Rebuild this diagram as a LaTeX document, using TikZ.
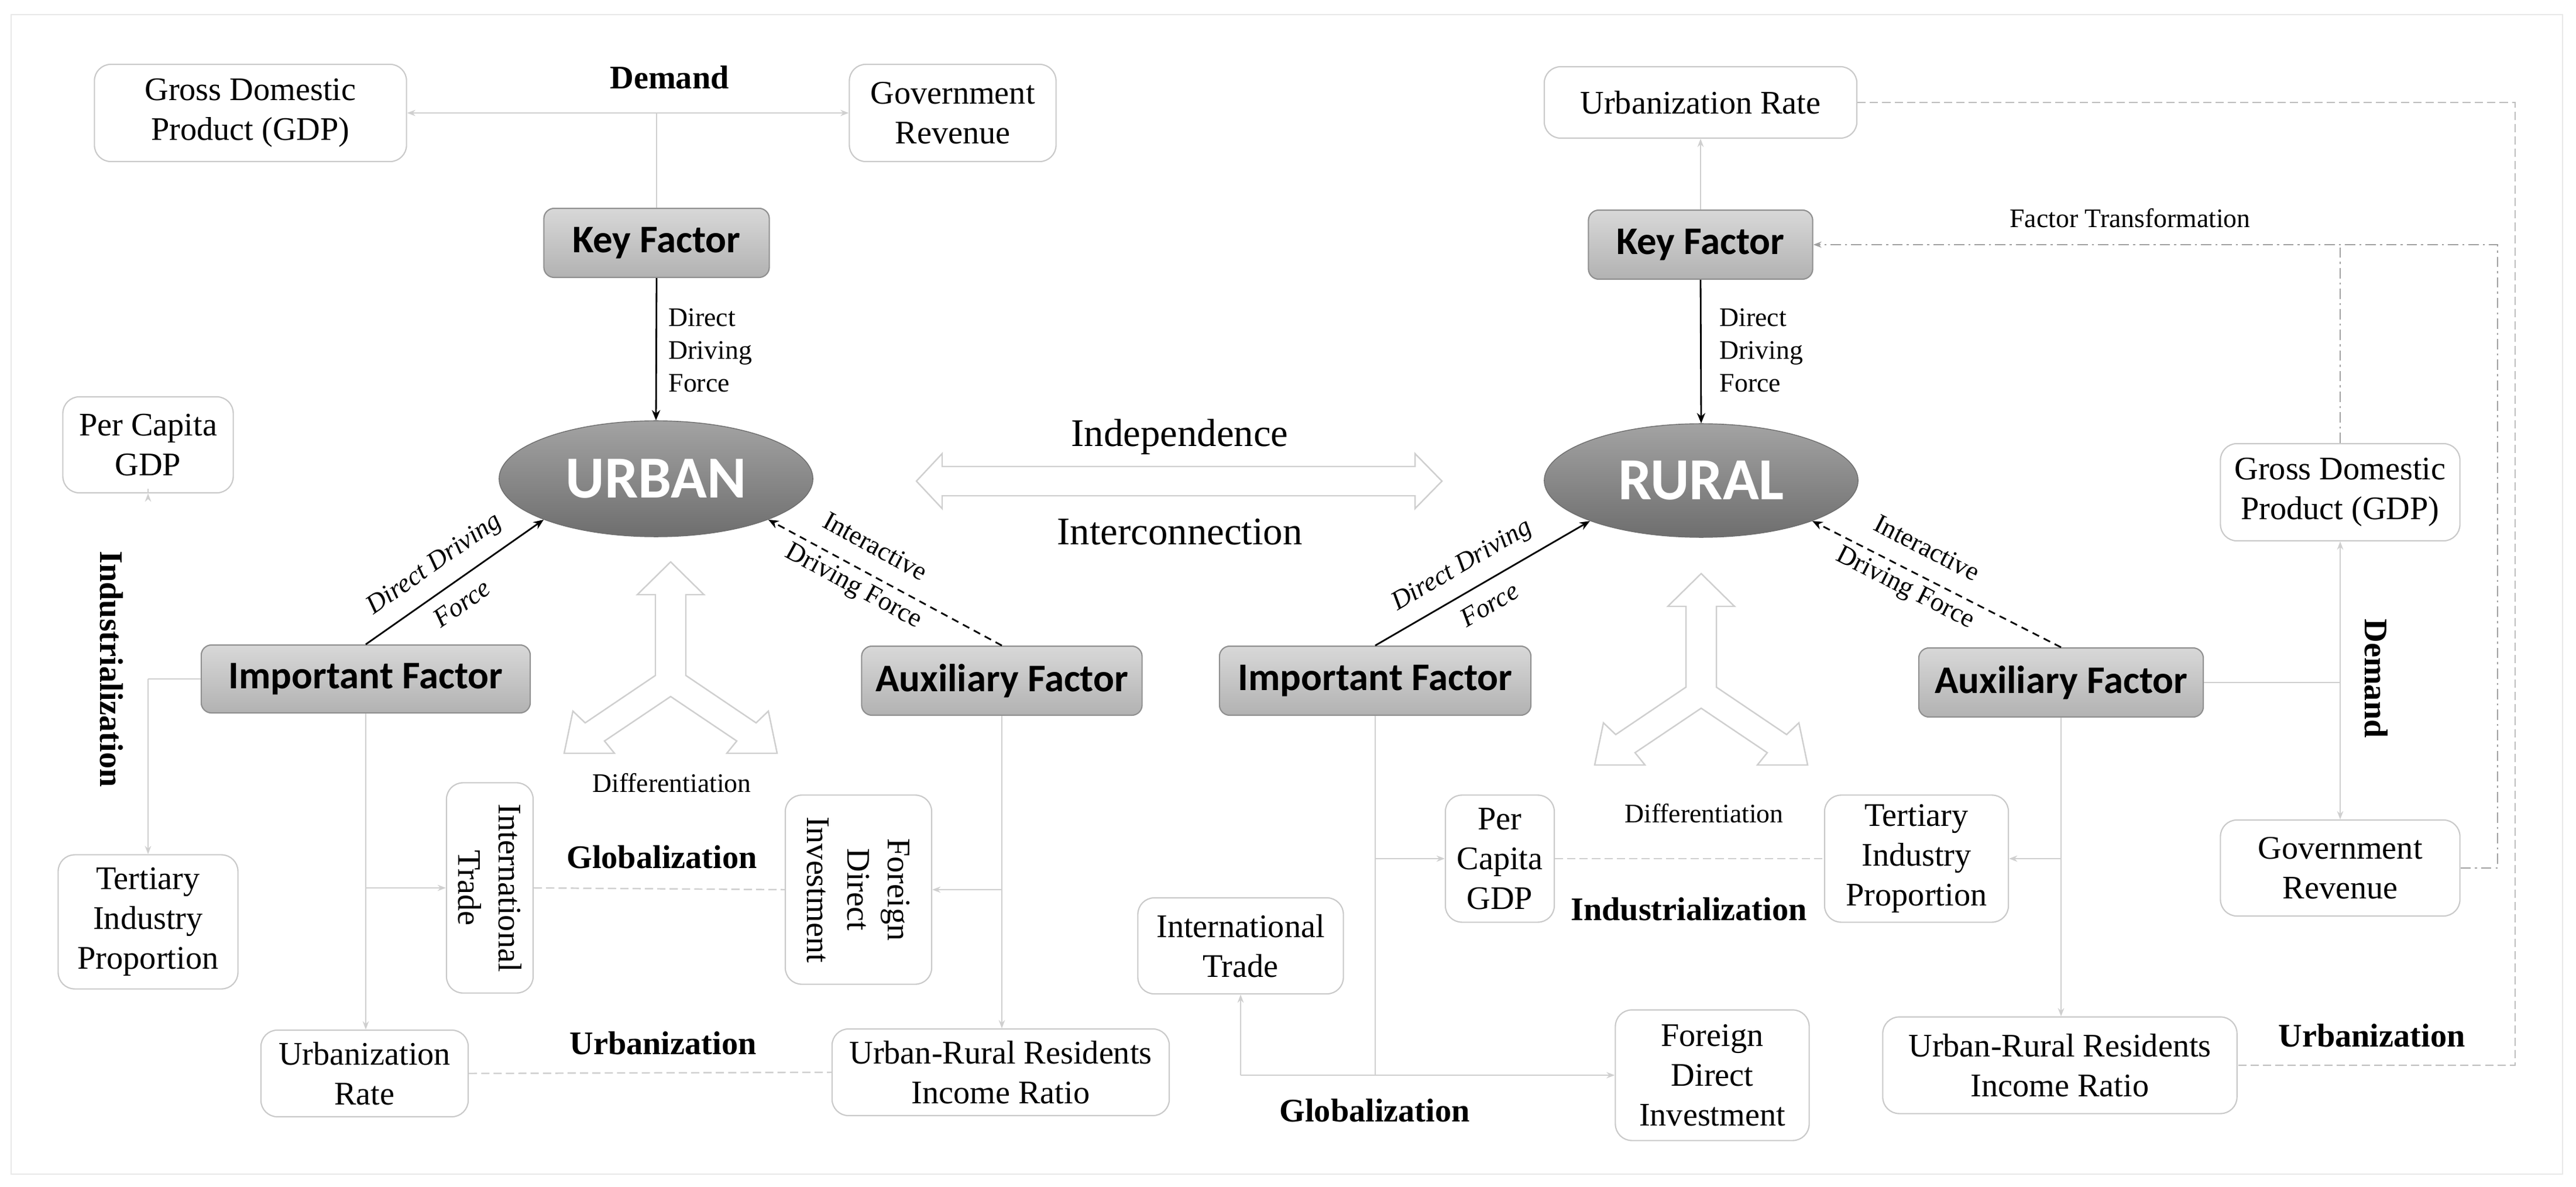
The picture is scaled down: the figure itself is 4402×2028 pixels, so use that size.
\documentclass[tikz,border=0pt]{standalone}
\usepackage{fontspec}
\setmainfont{Liberation Serif}
\newfontfamily\calib{Carlito}
\usetikzlibrary{arrows.meta,shapes.geometric,calc}
\definecolor{lite}{HTML}{CFCFCF}
\definecolor{boxline}{HTML}{C9C9C9}
\definecolor{ftop}{HTML}{D8D8D8}
\definecolor{fbot}{HTML}{B2B2B2}
\definecolor{fbord}{HTML}{8F8F8F}
\definecolor{etop}{HTML}{A3A3A3}
\definecolor{ebot}{HTML}{6E6E6E}
\definecolor{dd}{HTML}{A0A0A0}
\definecolor{loopc}{HTML}{BDBDBD}
\tikzset{
  wbox/.style={draw=boxline, line width=0.6pt, rounded corners=8pt, fill=white, align=center,
    font=\fontsize{16}{19.3}\selectfont, inner sep=0pt},
  factorbox/.style={draw=fbord, line width=0.6pt, rounded corners=5pt, top color=ftop, bottom color=fbot,
    font=\calib\bfseries\fontsize{19}{22}\selectfont, inner sep=0pt},
  hub/.style={ellipse, draw=ebot, line width=0.4pt, top color=etop, bottom color=ebot, text=white,
    font=\calib\bfseries\fontsize{29}{32}\selectfont, inner sep=0pt},
  lt/.style={draw=lite, line width=0.7pt},
  ltar/.style={lt, -{Stealth[length=4pt,width=3pt]}},
  ltdash/.style={lt, dash pattern=on 4pt off 2pt},
  blk/.style={draw=black, line width=0.8pt, -{Stealth[length=5pt,width=4pt]}},
  blkdash/.style={blk, dash pattern=on 3.5pt off 2.5pt},
  ddash/.style={draw=dd, line width=0.6pt, dash pattern=on 5pt off 2pt on 1pt off 2pt},
  loopdash/.style={draw=loopc, line width=0.6pt, dash pattern=on 4pt off 2pt},
  bigtxt/.style={font=\fontsize{19}{22}\selectfont, inner sep=0pt},
  smtxt/.style={font=\fontsize{13}{15.9}\selectfont, inner sep=0pt},
  boldtxt/.style={font=\bfseries\fontsize{16}{19}\selectfont, inner sep=0pt},
  rottxt/.style={font=\fontsize{16}{19.6}\selectfont, align=center, inner sep=0pt, rotate=-90},
  tri/.pic={\draw[lt, line join=miter] (0,0) -- (57,56) -- (26,56) -- (26,194) -- (146,275) -- (167,255)
    -- (182,327) -- (96,327) -- (113,306) -- (0,230) -- (-113,306) -- (-96,327) -- (-182,327)
    -- (-167,255) -- (-146,275) -- (-26,194) -- (-26,56) -- (-57,56) -- cycle;}
}
\begin{document}
\begin{tikzpicture}[x=0.01cm,y=-0.01cm]
\useasboundingbox (0,0) rectangle (4402,2028);
\draw[draw=gray!18, line width=0.6pt] (19,25) rectangle (4379,2006);

% ---------------- LEFT (URBAN) ----------------
\node[wbox, minimum width=5.33cm, minimum height=1.66cm] (gdpL) at (428,193) {Gross Domestic\\Product (GDP)};
\node[wbox, minimum width=3.53cm, minimum height=1.66cm] (govL) at (1628,193) {Government\\Revenue};
\node[factorbox, minimum width=3.85cm, minimum height=1.18cm] (keyL) at (1122,415) {Key Factor};
\node[hub, minimum width=5.36cm, minimum height=1.98cm] (urban) at (1121,818) {URBAN};
\node[wbox, minimum width=2.91cm, minimum height=1.64cm] (pcgL) at (253,760) {Per Capita\\GDP};
\node[wbox, minimum width=3.07cm, minimum height=2.29cm] (tertL) at (253,1575) {Tertiary\\Industry\\Proportion};
\node[factorbox, minimum width=5.62cm, minimum height=1.16cm] (impL) at (625,1160) {Important Factor};
\node[factorbox, minimum width=4.79cm, minimum height=1.18cm] (auxL) at (1712,1163) {Auxiliary Factor};
\node[wbox, minimum width=1.48cm, minimum height=3.59cm] (itL) at (837,1517) {};
\node[rottxt] (itLt) at (itL.center) {International\\Trade};
\node[wbox, minimum width=2.50cm, minimum height=3.23cm] (fdiL) at (1467,1520) {};
\node[rottxt] (fdiLt) at (fdiL.center) {Foreign\\Direct\\Investment};
\node[wbox, minimum width=3.54cm, minimum height=1.48cm] (urL) at (623,1834) {Urbanization\\Rate};
\node[wbox, minimum width=5.76cm, minimum height=1.48cm] (uirL) at (1710,1832) {Urban-Rural Residents\\Income Ratio};

\node[boldtxt] (demL) at (1144,132) {Demand};
\node[smtxt, anchor=west, align=left] (ddfL) at (1142,599) {Direct\\Driving\\Force};
\node[boldtxt, rotate=-90] (indL) at (191,1143) {Industrialization};
\node[smtxt] (difL) at (1148,1338) {Differentiation};
\node[boldtxt] (globL) at (1131,1464) {Globalization};
\node[boldtxt] (urbL) at (1133,1782) {Urbanization};
\node[smtxt, rotate=35, font=\itshape\fontsize{13}{15.9}\selectfont] (l1) at (743,965) {Direct Driving};
\node[smtxt, rotate=35, font=\itshape\fontsize{13}{15.9}\selectfont] (l2) at (789,1031) {Force};
\node[smtxt, rotate=-28.6] (l3) at (1496,933) {Interactive};
\node[smtxt, rotate=-28.6] (l4) at (1458,1003) {Driving Force};

\draw[lt] (keyL.north) -- (keyL.north |- gdpL.east);
\draw[ltar] (keyL.north |- gdpL.east) -- (gdpL.east);
\draw[ltar] (keyL.north |- govL.west) -- (govL.west);
\draw[blk] (keyL.south) -- (urban.north);
\draw[blk] (impL.north) -- (urban.200);
\draw[blkdash] (auxL.north) -- (urban.-20);
\draw[lt] (impL.west) -- (impL.west -| pcgL.south);
\draw[ltar] (pcgL.south -| impL.west -| pcgL.south) -- (pcgL.south);
\draw[ltar] (impL.west -| pcgL.south) -- (pcgL.south |- tertL.north);
\draw[ltar] (impL.south) -- (impL.south |- urL.north);
\draw[ltar] (impL.south |- itL.west) -- (itL.west);
\draw[ltar] (auxL.south) -- (auxL.south |- uirL.north);
\draw[ltar] (auxL.south |- fdiL.east) -- (fdiL.east);
\draw[ltdash] (itL.east) -- (fdiL.west);
\draw[ltdash] (urL.east) -- (uirL.west);

\pic at (1146,960) {tri};

% ---------------- CENTRE ----------------
\draw[lt, line join=miter] (1566,822) -- (1610,775) -- (1610,797) -- (2418,797) -- (2418,775) -- (2464,822)
  -- (2418,869) -- (2418,847) -- (1610,847) -- (1610,869) -- cycle;
\node[bigtxt] (indep) at (2016,746) {Independence};
\node[bigtxt] (inter) at (2016,909) {Interconnection};

% ---------------- RIGHT (RURAL) ----------------
\node[wbox, minimum width=5.34cm, minimum height=1.22cm] (urR) at (2906,175) {Urbanization Rate};
\node[factorbox, minimum width=3.83cm, minimum height=1.18cm] (keyR) at (2906,418) {Key Factor};
\node[hub, minimum width=5.36cm, minimum height=1.94cm] (rural) at (2907,821) {RURAL};
\node[factorbox, minimum width=5.32cm, minimum height=1.18cm] (impR) at (2350,1163) {Important Factor};
\node[factorbox, minimum width=4.86cm, minimum height=1.18cm] (auxR) at (3522,1166) {Auxiliary Factor};
\node[wbox, minimum width=4.09cm, minimum height=1.66cm] (gdpR) at (3999,841) {Gross Domestic\\Product (GDP)};
\node[wbox, minimum width=4.09cm, minimum height=1.64cm] (govR) at (3999,1483) {Government\\Revenue};
\node[wbox, minimum width=1.86cm, minimum height=2.17cm] (pcgR) at (2563,1467) {Per\\Capita\\GDP};
\node[wbox, minimum width=3.14cm, minimum height=2.17cm] (tertR) at (3275,1467) {Tertiary\\Industry\\Proportion};
\node[wbox, minimum width=3.51cm, minimum height=1.64cm] (itR) at (2120,1616) {International\\Trade};
\node[wbox, minimum width=3.31cm, minimum height=2.23cm] (fdiR) at (2926,1837) {Foreign\\Direct\\Investment};
\node[wbox, minimum width=6.05cm, minimum height=1.65cm] (uirR) at (3520,1820) {Urban-Rural Residents\\Income Ratio};

\node[smtxt, anchor=west, align=left] (ddfR) at (2938,599) {Direct\\Driving\\Force};
\node[smtxt] (ftr) at (3640,373) {Factor Transformation};
\node[boldtxt, rotate=-90] (demR) at (4061,1159) {Demand};
\node[smtxt] (difR) at (2912,1390) {Differentiation};
\node[boldtxt] (indR) at (2886,1553) {Industrialization};
\node[boldtxt] (globR) at (2349,1897) {Globalization};
\node[boldtxt] (urbR) at (4053,1769) {Urbanization};
\node[smtxt, rotate=30.4, font=\itshape\fontsize{13}{15.9}\selectfont] (r1) at (2499,967) {Direct Driving};
\node[smtxt, rotate=30.4, font=\itshape\fontsize{13}{15.9}\selectfont] (r2) at (2545,1033) {Force};
\node[smtxt, rotate=-27] (r3) at (3293,936) {Interactive};
\node[smtxt, rotate=-27] (r4) at (3255,1006) {Driving Force};

\draw[ltar] (keyR.north) -- (urR.south);
\draw[blk] (keyR.south) -- (rural.north);
\draw[blk] (impR.north) -- (rural.200);
\draw[blkdash] (auxR.north) -- (rural.-20);
\draw[lt] (impR.south) -- (impR.south |- fdiR.west);
\draw[ltar] (impR.south |- fdiR.west) -- (fdiR.west);
\draw[ltar] (itR.south |- fdiR.west) -- (itR.south);
\draw[lt] (itR.south |- fdiR.west) -- (impR.south |- fdiR.west);
\draw[ltar] (impR.south |- pcgR.west) -- (pcgR.west);
\draw[ltar] (auxR.south) -- (auxR.south |- uirR.north);
\draw[ltar] (auxR.south |- tertR.east) -- (tertR.east);
\draw[ltdash] (pcgR.east) -- (tertR.west);
\draw[lt] (auxR.east) -- (auxR.east -| gdpR.south);
\draw[ltar] (auxR.east -| gdpR.south) -- (gdpR.south);
\draw[ltar] (auxR.east -| gdpR.south) -- (govR.north);

\coordinate (ftc) at (4268,418);
\draw[ddash, -{Stealth[length=4pt,width=3pt]}] (govR.east) -| (ftc) -- (keyR.east);
\draw[ddash] (gdpR.north) -- (gdpR.north |- keyR.east);
\coordinate (lp) at (4298,175);
\draw[loopdash] (urR.east) -- (lp) -- (lp |- uirR.east) -- (uirR.east);

\pic at (2907,980) {tri};
\end{tikzpicture}
\end{document}
